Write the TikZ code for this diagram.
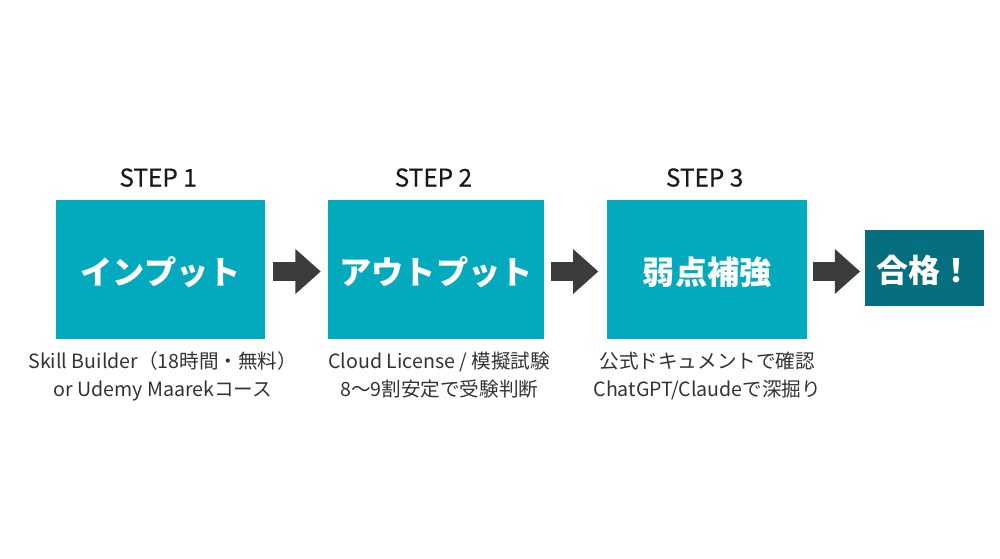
\documentclass[tikz,border=0pt]{standalone}
\usepackage{fontspec}
\setmainfont{Noto Sans CJK JP}
\usetikzlibrary{arrows.meta, positioning}

\definecolor{stepteal}{HTML}{03A9BC}
\definecolor{goalteal}{HTML}{056F80}
\definecolor{arrowgray}{HTML}{3C3C3C}
\definecolor{notegray}{HTML}{333333}

\tikzset{
  stepbox/.style={fill=stepteal, text=white, minimum height=104.6pt, inner sep=0pt,
    text height=24.6pt, text depth=2.9pt,
    font=\fontsize{24.2}{28}\selectfont\bfseries},
  goalbox/.style={fill=goalteal, text=white, minimum width=89.25pt, minimum height=57pt, inner sep=0pt,
    text height=24.6pt, text depth=2.9pt,
    font=\fontsize{24}{28}\selectfont\bfseries},
  steplabel/.style={text=black!90, inner sep=0pt,
    font=\fontsize{18.3}{20}\selectfont\addfontfeature{FakeBold=0.3}},
  notelabel/.style={text=notegray, inner sep=0pt, align=center, font=\fontsize{14.7}{21}\selectfont},
  bigarrow/.style={draw=arrowgray, line width=14.5pt, shorten <=5.2pt, shorten >=5.5pt,
    -{Triangle[length=19pt, width=32.5pt, fill=arrowgray]}}
}

\begin{document}
\begin{tikzpicture}[x=0.75pt, y=-0.75pt]
     \useasboundingbox[fill=white] (0,0) rectangle (1000,558);
     \node[stepbox, minimum width=156.75pt] (input) at (160.8,269.75) {インプット};
     \node[stepbox, minimum width=161.6pt, right=46.9pt of input]  (output) {アウトプット};
     \node[stepbox, minimum width=150pt, right=47.2pt of output]   (weak) {弱点補強};
     \node[goalbox, right=43.2pt of weak, yshift=1.3pt]            (goal) {合格！};
     \node[steplabel, above=9.5pt of input, xshift=-2pt]  (step1) {STEP 1};
     \node[steplabel, above=9.5pt of output, xshift=-2pt] (step2) {STEP 2};
     \node[steplabel, above=9.5pt of weak, xshift=-2pt]   (step3) {STEP 3};
     \node[notelabel, below=9pt of input, xshift=1.5pt]  (note1) {Skill Builder（18時間・無料）\\or Udemy Maarekコース};
     \node[notelabel, below=9pt of output, xshift=2.4pt] (note2) {Cloud License / 模擬試験\\8〜9割安定で受験判断};
     \node[notelabel, below=9pt of weak]                 (note3) {公式ドキュメントで確認\\ChatGPT/Claudeで深掘り};
     \draw[bigarrow] ([yshift=-1.3pt]input.east) -- ([yshift=-1.3pt]output.west);
     \draw[bigarrow, shorten <=4.9pt, shorten >=6.5pt] ([yshift=-1.3pt]output.east) -- ([yshift=-1.3pt]weak.west);
     \draw[bigarrow, shorten <=3.75pt, shorten >=3.75pt] ([yshift=-1.3pt]weak.east) -- ([yshift=-1.3pt]weak.east -| goal.west);
  \end{tikzpicture}
\end{document}
